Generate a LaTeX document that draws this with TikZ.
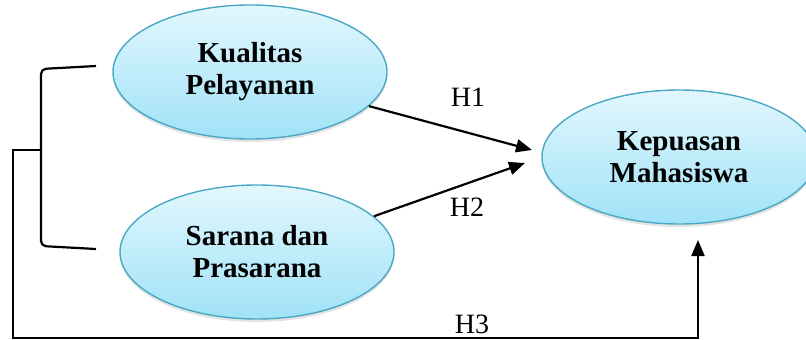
\documentclass[tikz,border=0pt]{standalone}
\usepackage{fontspec}
\setmainfont{Liberation Serif}
\usetikzlibrary{shapes.geometric,arrows.meta,shadows}
\definecolor{ovalline}{RGB}{75,168,196}
\definecolor{ovaltop}{RGB}{226,247,254}
\definecolor{ovalbot}{RGB}{160,226,247}
\tikzset{
  oval/.style={ellipse, draw=ovalline, line width=1.4pt, inner sep=0pt,
    minimum width=274pt, minimum height=134pt,
    top color=ovaltop, bottom color=ovalbot,
    drop shadow={opacity=0.22, shadow xshift=0pt, shadow yshift=-3pt},
    align=center, font=\fontsize{29}{32}\selectfont\bfseries},
  link/.style={line width=2.2pt, black},
  arrowlink/.style={link, -{Triangle[length=16pt,width=13pt]}},
  hlabel/.style={font=\fontsize{28}{30}\selectfont, inner sep=0pt}
}
\begin{document}
\begin{tikzpicture}[x=1pt,y=-1pt]
\useasboundingbox (0,0) rectangle (806,340);

% constructs
\node[oval] (kp) at (250,72) {Kualitas\\Pelayanan};
\node[oval] (sp) at (257,252) {Sarana dan\\Prasarana};
\node[oval] (km) at (679,157) {Kepuasan\\Mahasiswa};

% end points of the connectors
\coordinate (t1) at (532,150);
\coordinate (t2) at (525,163);
\coordinate (t3) at (698,240);
\coordinate (bt) at (96,66);
\coordinate (bb) at (96,249);
\coordinate (bm) at (41,150);

% partial effects
\draw[arrowlink] (kp.-16) -- (t1);
\draw[arrowlink] (sp.17) -- (t2);

% bracket joining both predictors
\draw[link, rounded corners=5pt] (bt) -- (41,69) -- (41,246) -- (bb);

% simultaneous effect
\draw[arrowlink] (bm) -- (13,150) -- (13,338) -- (698,338) -- (t3);

% hypothesis labels
\node[hlabel] (h1) at (468,97) {H1};
\node[hlabel] (h2) at (467,207) {H2};
\node[hlabel] (h3) at (472,324) {H3};
\end{tikzpicture}
\end{document}
